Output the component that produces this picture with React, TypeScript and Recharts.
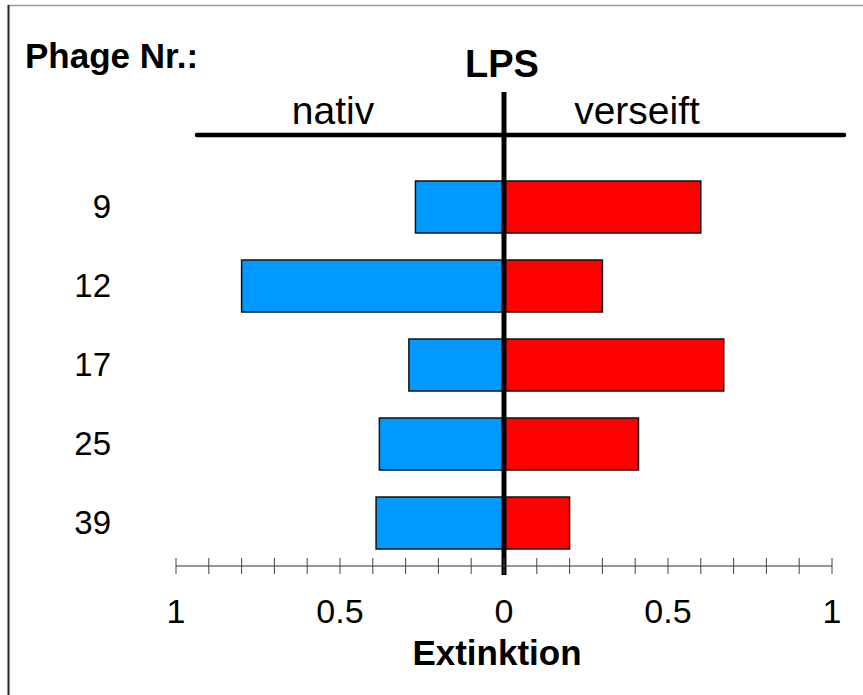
import React from 'react'
import { BarChart, Bar, XAxis, YAxis, ReferenceLine } from 'recharts'

// Extinktion je Phage, LPS nativ (links) und verseift (rechts)
const phages = ['9', '12', '17', '25', '39']
const nativ = [0.27, 0.8, 0.29, 0.38, 0.39]
const verseift = [0.6, 0.3, 0.67, 0.41, 0.2]

const xTicks = [-1, -0.9, -0.8, -0.7, -0.6, -0.5, -0.4, -0.3, -0.2, -0.1, 0, 0.1, 0.2, 0.3, 0.4, 0.5, 0.6, 0.7, 0.8, 0.9, 1]
const labeledTicks = [-1, -0.5, 0, 0.5, 1]
const xTickLabels = ['1', '0.5', '0', '0.5', '1']

const data = phages.map((p, i) => ({ phage: p, nativ: -nativ[i], verseift: verseift[i] }))

const font = '"Liberation Sans", Arial, Helvetica, sans-serif'

function ExtTick(props: any) {
  const { x, y, payload } = props
  const i = labeledTicks.indexOf(payload.value)
  return (
    <g>
      <line x1={x} x2={x} y1={y - 8} y2={y + 8} stroke="#444" strokeWidth={1} />
      {i >= 0 && (
        <text x={x} y={y + 57} textAnchor="middle" fontSize={34} fill="#000" fontFamily={font}>
          {xTickLabels[i]}
        </text>
      )}
    </g>
  )
}

function ZeroLine(props: any) {
  const { x1, x2, y1, y2 } = props
  return (
    <line
      x1={x1}
      x2={x2}
      y1={Math.min(y1, y2) - 75}
      y2={Math.max(y1, y2) + 9}
      stroke="#000"
      strokeWidth={5}
    />
  )
}

export default function App() {
  return (
    <div style={{ position: 'absolute', left: 0, top: 0, width: 863, height: 695, background: '#fff', fontFamily: font }}>
      <BarChart
        width={863}
        height={695}
        data={data}
        layout="vertical"
        stackOffset="sign"
        margin={{ top: 167, right: 31, bottom: 29, left: 0 }}
      >
        <XAxis
          type="number"
          domain={[-1, 1]}
          ticks={xTicks}
          interval={0}
          tick={<ExtTick />}
          tickSize={0}
          tickMargin={0}
          tickLine={false}
          axisLine={{ stroke: '#333', strokeWidth: 1.2 }}
          height={100}
          allowDataOverflow
        />
        <YAxis
          type="category"
          dataKey="phage"
          width={176}
          tickSize={0}
          tickMargin={65}
          tickLine={false}
          axisLine={false}
          padding={{ top: 0, bottom: 4 }}
          tick={{ fontSize: 33, fill: '#000', fontFamily: font }}
        />
        <Bar dataKey="nativ" stackId="a" fill="#0099ff" stroke="#111" strokeWidth={1.5} barSize={52} isAnimationActive={false} />
        <Bar dataKey="verseift" stackId="a" fill="#ff0000" stroke="#111" strokeWidth={1.5} barSize={52} isAnimationActive={false} />
        <ReferenceLine x={0} stroke="#000" strokeWidth={5} shape={ZeroLine} ifOverflow="visible" />
      </BarChart>
      <svg width={863} height={695} style={{ position: 'absolute', left: 0, top: 0, pointerEvents: 'none' }}>
        <line x1={8} x2={863} y1={5.5} y2={5.5} stroke="#999" strokeWidth={1.5} />
        <line x1={8.5} x2={8.5} y1={5} y2={695} stroke="#222" strokeWidth={2} />
        <text x={25} y={68} fontSize={35} fontWeight="bold" fontFamily={font} fill="#000">Phage Nr.:</text>
        <text x={502} y={77} fontSize={38} fontWeight="bold" fontFamily={font} fill="#000" textAnchor="middle">LPS</text>
        <text x={333} y={124} fontSize={39} fontFamily={font} fill="#000" textAnchor="middle">nativ</text>
        <text x={637} y={124} fontSize={39} fontFamily={font} fill="#000" textAnchor="middle">verseift</text>
        <line x1={197} x2={844} y1={135} y2={135} stroke="#000" strokeWidth={4.5} strokeLinecap="round" />
        <text x={497} y={665} fontSize={35} fontWeight="bold" fontFamily={font} fill="#000" textAnchor="middle">Extinktion</text>
      </svg>
    </div>
  )
}
